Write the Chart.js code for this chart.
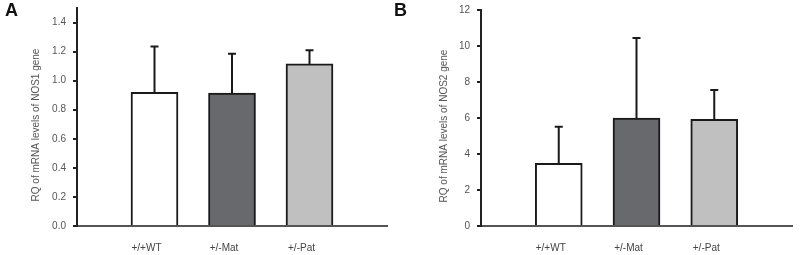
<!DOCTYPE html>
<html>
<head>
<meta charset="utf-8">
<script src="https://cdn.jsdelivr.net/npm/chart.js@4.4.1/dist/chart.umd.min.js"></script>
<style>
    body { margin: 0; background: #fff; font-family: "Liberation Sans", Arial, sans-serif; }
    .panel { position: absolute; top: 0; width: 400px; height: 255px; }
    .tag { position: absolute; top: 1px; font-weight: bold; font-size: 18px; line-height: 18px; color: #111; }
</style>
</head>
<body>
<div class="panel" style="left:0"><canvas id="chartA" width="400" height="255"></canvas></div>
<div class="panel" style="left:400px"><canvas id="chartB" width="400" height="255"></canvas></div>
<div class="tag" style="left:5px">A</div>
<div class="tag" style="left:394px">B</div>

<script>
// groups, with an empty slot on each side like the original axes
const groups = ['+/+WT', '+/-Mat', '+/-Pat'];
const barColors = ['#ffffff', '#68696d', '#c0c0c0'];

// panel A - NOS1
const nos1Mean = [0.92, 0.915, 1.115];
const nos1Err = [0.315, 0.27, 0.095];
const nos1Ticks = [0, 0.2, 0.4, 0.6, 0.8, 1.0, 1.2, 1.4];

// panel B - NOS2
const nos2Mean = [3.48, 6.0, 5.92];
const nos2Err = [2.04, 4.45, 1.63];
const nos2Ticks = [0, 2, 4, 6, 8, 10, 12];

function pad(arr) {
    return [null, ...arr, null];
}

// upper error bars
const errorBars = {
    id: 'errorBars',
    afterDatasetsDraw(chart, args, opts) {
        const ctx = chart.ctx;
        const y = chart.scales.y;
        const values = chart.data.datasets[0].data;
        ctx.save();
        ctx.strokeStyle = '#1a1a1a';
        ctx.lineWidth = 2;
        chart.getDatasetMeta(0).data.forEach((bar, i) => {
            const err = opts.errors[i];
            if (err == null || values[i] == null) return;
            const top = y.getPixelForValue(values[i] + err);
            ctx.beginPath();
            ctx.moveTo(bar.x, bar.y);
            ctx.lineTo(bar.x, top);
            ctx.moveTo(bar.x - 4, top);
            ctx.lineTo(bar.x + 4, top);
            ctx.stroke();
        });
        ctx.restore();
    }
};

// rotated y title, sits a bit below the middle of the axis
const yTitle = {
    id: 'yTitle',
    afterDraw(chart, args, opts) {
        const ctx = chart.ctx;
        const area = chart.chartArea;
        ctx.save();
        ctx.translate(opts.x, (area.top + area.bottom) / 2 + 8);
        ctx.rotate(-Math.PI / 2);
        ctx.fillStyle = '#555';
        ctx.font = '10px "Liberation Sans", Arial, sans-serif';
        ctx.textAlign = 'center';
        ctx.textBaseline = 'middle';
        ctx.fillText(opts.text, 0, 0);
        ctx.restore();
    }
};

function makeChart(id, mean, err, ticks, max, title, cfg) {
    const ctx = document.getElementById(id).getContext('2d');
    return new Chart(ctx, {
        type: 'bar',
        data: {
            labels: pad(groups),
            datasets: [{
                data: pad(mean),
                backgroundColor: pad(barColors),
                borderColor: '#1a1a1a',
                borderWidth: 2,
                borderSkipped: 'start',
                barThickness: 47
            }]
        },
        options: {
            responsive: false,
            animation: false,
            layout: { padding: { left: 0, right: cfg.right, top: cfg.top, bottom: 0 } },
            plugins: {
                legend: { display: false },
                tooltip: { enabled: false },
                errorBars: { errors: pad(err) },
                yTitle: { text: title, x: cfg.titleX }
            },
            scales: {
                x: {
                    offset: false,
                    afterFit: s => { s.height = 29; s.paddingLeft = 0; s.paddingRight = 0; },
                    grid: { display: false, drawTicks: false },
                    border: { color: '#555', width: 2 },
                    ticks: {
                        color: '#444',
                        font: { size: 10, family: '"Liberation Sans", Arial, sans-serif' },
                        padding: 16,
                        labelOffset: -8,
                        autoSkip: false,
                        maxRotation: 0
                    }
                },
                y: {
                    min: 0,
                    max: max,
                    afterBuildTicks: s => { s.ticks = ticks.map(v => ({ value: v })); },
                    afterFit: s => { s.width = cfg.left; s.paddingTop = 0; s.paddingBottom = 0; },
                    grid: { drawOnChartArea: false, drawTicks: true, tickLength: 4, color: '#222', lineWidth: 2 },
                    border: { color: '#222', width: 2 },
                    ticks: {
                        color: '#555',
                        font: { size: 10, family: '"Liberation Sans", Arial, sans-serif' },
                        padding: 7,
                        callback: cfg.format
                    }
                }
            }
        },
        plugins: [errorBars, yTitle]
    });
}

window.onload = function() {
    makeChart('chartA', nos1Mean, nos1Err, nos1Ticks, 1.5, 'RQ of mRNA levels of NOS1 gene',
        { left: 77, right: 13, top: 8, titleX: 36, format: v => Number(v).toFixed(1) });
    makeChart('chartB', nos2Mean, nos2Err, nos2Ticks, 12, 'RQ of mRNA levels of NOS2 gene',
        { left: 81, right: 8, top: 10, titleX: 44, format: v => v });
};
</script>
</body>
</html>
